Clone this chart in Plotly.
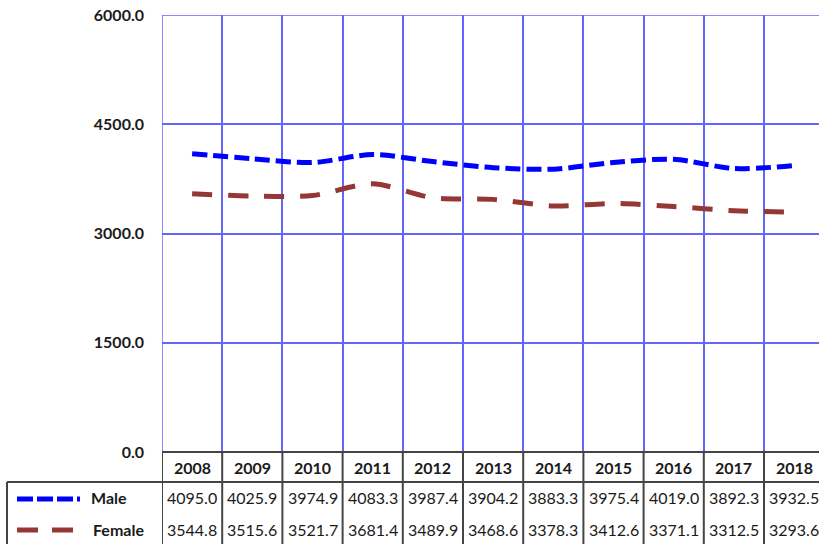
import plotly.graph_objects as go

years = ["2008", "2009", "2010", "2011", "2012", "2013", "2014", "2015", "2016", "2017", "2018"]
male = [4095.0, 4025.9, 3974.9, 4083.3, 3987.4, 3904.2, 3883.3, 3975.4, 4019.0, 3892.3, 3932.5]
female = [3544.8, 3515.6, 3521.7, 3681.4, 3489.9, 3468.6, 3378.3, 3412.6, 3371.1, 3312.5, 3293.6]
y_ticks = [0, 1500, 3000, 4500, 6000]

W, H = 819, 544
ML, MR, MT, MB = 162, 0, 15, 92
PW, PH = W - ML - MR, H - MT - MB
CAT_W = 60.2  # pixel width of one year column

FONT = "Lato"
TXT = "#1a1a1a"
TABLE_LINE = "#454545"
GRID = "rgb(100,100,255)"
MALE_C = "#0000ff"
FEMALE_C = "#953735"


def py(p):
    """pixel row -> paper y"""
    return (MT + PH - p) / PH


def px(p):
    """pixel column -> paper x"""
    return (p - ML) / PW


xs = list(range(len(years)))
x_max = -0.5 + PW / CAT_W

fig = go.Figure()
fig.add_trace(go.Scatter(
    x=xs, y=male, mode="lines", name="Male",
    line=dict(color=MALE_C, width=5, dash="15px,6px", shape="spline", smoothing=0.8),
    showlegend=False,
))
fig.add_trace(go.Scatter(
    x=xs, y=female, mode="lines", name="Female",
    line=dict(color=FEMALE_C, width=5, dash="20px,16px", shape="spline", smoothing=0.8),
    showlegend=False,
))

shapes = []
annotations = []

# grid lines that sit on the plot edges (left border and 6000 line)
shapes.append(dict(type="line", xref="x", yref="paper", x0=-0.5, x1=-0.5, y0=0, y1=1,
                   layer="below", line=dict(color=GRID, width=1.5)))
shapes.append(dict(type="line", xref="paper", yref="y", x0=0, x1=1, y0=6000, y1=6000,
                   layer="below", line=dict(color=GRID, width=1.5)))

# table borders
bounds = [i - 0.5 for i in range(len(years) + 1)]
for b in bounds:
    shapes.append(dict(type="line", xref="x", yref="paper", x0=b, x1=b,
                       y0=0, y1=py(560), line=dict(color=TABLE_LINE, width=2)))
shapes.append(dict(type="line", xref="paper", yref="paper", x0=0, x1=1,
                   y0=0, y1=0, line=dict(color=TABLE_LINE, width=2)))
shapes.append(dict(type="line", xref="paper", yref="paper", x0=px(7), x1=1,
                   y0=py(482), y1=py(482), line=dict(color=TABLE_LINE, width=2)))
shapes.append(dict(type="line", xref="paper", yref="paper", x0=px(7), x1=px(7),
                   y0=py(482), y1=py(560), line=dict(color=TABLE_LINE, width=2)))

# legend keys inside the table
shapes.append(dict(type="line", xref="paper", yref="paper", x0=px(17), x1=px(80),
                   y0=py(499), y1=py(499),
                   line=dict(color=MALE_C, width=5, dash="16px,4px")))
shapes.append(dict(type="line", xref="paper", yref="paper", x0=px(17), x1=px(73),
                   y0=py(530), y1=py(530),
                   line=dict(color=FEMALE_C, width=5, dash="21px,14px")))
annotations.append(dict(text="<b>Male</b>", xref="paper", yref="paper", x=px(89), y=py(498),
                        xanchor="left", yanchor="middle", showarrow=False,
                        font=dict(family=FONT, size=16, color=TXT)))
annotations.append(dict(text="<b>Female</b>", xref="paper", yref="paper", x=px(91), y=py(529),
                        xanchor="left", yanchor="middle", showarrow=False,
                        font=dict(family=FONT, size=16, color=TXT)))

# table cells
for i, yr in enumerate(years):
    annotations.append(dict(text=f"<b>{yr}</b>", xref="x", yref="paper", x=i, y=py(467),
                            xanchor="center", yanchor="middle", showarrow=False,
                            font=dict(family=FONT, size=16, color=TXT)))
    annotations.append(dict(text=f"{male[i]:.1f}", xref="x", yref="paper", x=i, y=py(498),
                            xanchor="center", yanchor="middle", showarrow=False,
                            font=dict(family=FONT, size=16, color=TXT)))
    annotations.append(dict(text=f"{female[i]:.1f}", xref="x", yref="paper", x=i, y=py(529),
                            xanchor="center", yanchor="middle", showarrow=False,
                            font=dict(family=FONT, size=16, color=TXT)))

fig.update_layout(
    width=W, height=H,
    margin=dict(l=ML, r=MR, t=MT, b=MB, pad=0),
    paper_bgcolor="white", plot_bgcolor="white",
    shapes=shapes, annotations=annotations,
    xaxis=dict(range=[-0.5, x_max], tickmode="array", tickvals=bounds,
               showticklabels=False, showgrid=True, gridcolor=GRID, gridwidth=1.5,
               zeroline=False, showline=False, ticks=""),
    yaxis=dict(range=[0, 6000], tickmode="array", tickvals=y_ticks,
               ticktext=[f"<b>{v:.1f}</b>" for v in y_ticks],
               showgrid=True, gridcolor=GRID, gridwidth=1.5,
               zeroline=False, showline=False, ticks="", ticklabelstandoff=17,
               tickfont=dict(family=FONT, size=16, color=TXT)),
)

fig.write_html("out.html")
